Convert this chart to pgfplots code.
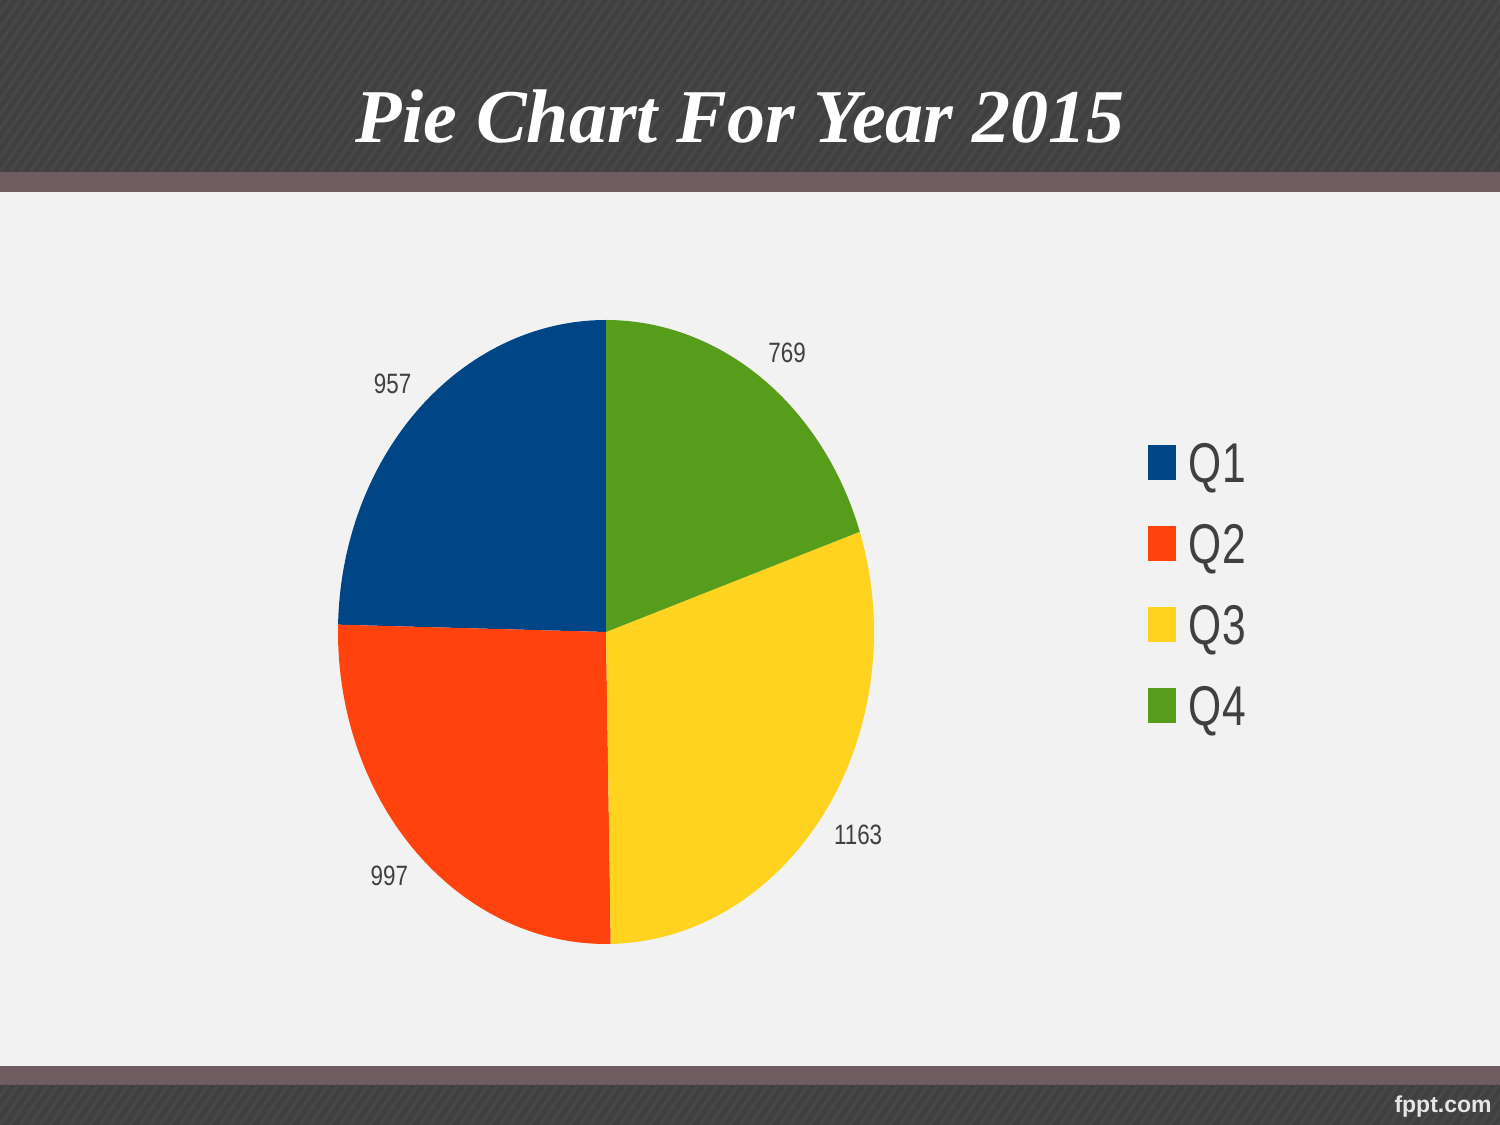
\documentclass[border=0pt]{standalone}
\usepackage{pgfplots}
\pgfplotsset{compat=1.18}
\usepackage{pgfplotstable}
\usepackage{fontspec}
\setmainfont{Liberation Sans}
\newfontfamily\titlefont{Liberation Serif}
\newfontfamily\narrowfont[FakeStretch=0.80]{Liberation Sans}
\newfontfamily\legendfont[FakeStretch=0.76]{Liberation Sans}
\definecolor{qone}{HTML}{004586}
\definecolor{qtwo}{HTML}{FF420E}
\definecolor{qthree}{HTML}{FFD320}
\definecolor{qfour}{HTML}{579D1C}
\definecolor{darkband}{HTML}{404040}
\definecolor{stripe}{HTML}{474747}
\definecolor{mauve}{HTML}{6E5C60}
\definecolor{bodybg}{HTML}{F2F2F2}
\definecolor{labeltext}{HTML}{404040}
\definecolor{footertext}{HTML}{E6E6E6}

\pgfplotstableread{
label value
Q1 957
Q2 997
Q3 1163
Q4 769
}\piedata

\begin{document}%
\begin{tikzpicture}
\pgfplotstablegetelem{0}{value}\of\piedata \let\vA\pgfplotsretval
\pgfplotstablegetelem{1}{value}\of\piedata \let\vB\pgfplotsretval
\pgfplotstablegetelem{2}{value}\of\piedata \let\vC\pgfplotsretval
\pgfplotstablegetelem{3}{value}\of\piedata \let\vD\pgfplotsretval
\pgfmathsetmacro\total{\vA+\vB+\vC+\vD}
\pgfmathsetmacro\aA{90}
\pgfmathsetmacro\aB{\aA+\vA/\total*360}
\pgfmathsetmacro\aC{\aB+\vB/\total*360}
\pgfmathsetmacro\aD{\aC+\vC/\total*360}
\pgfmathsetmacro\aE{\aD+\vD/\total*360}
\pgfmathsetmacro\mA{(\aA+\aB)/2}
\pgfmathsetmacro\mB{(\aB+\aC)/2}
\pgfmathsetmacro\mC{(\aC+\aD)/2}
\pgfmathsetmacro\mD{(\aD+\aE)/2}
\path[use as bounding box] (0,0) rectangle (750pt,562.5pt);
\begin{scope}[x=0.5pt,y=-0.5pt,shift={(0pt,562.5pt)}]
  \fill[bodybg] (0,0) rectangle (1500,1125);
  \fill[darkband] (0,0) rectangle (1500,172);
  \begin{scope}
    \clip (0,0) rectangle (1500,172);
    \foreach \i in {-300,-290,...,1520} \draw[stripe, line width=1.6pt] (\i,172) -- (\i+120,0);
  \end{scope}
  \fill[mauve] (0,172) rectangle (1500,192);
  \fill[mauve] (0,1066) rectangle (1500,1085);
  \fill[darkband] (0,1085) rectangle (1500,1125);
  \begin{scope}
    \clip (0,1085) rectangle (1500,1125);
    \foreach \i in {-100,-90,...,1520} \draw[stripe, line width=1.6pt] (\i,1125) -- (\i+28,1085);
  \end{scope}
  \node[anchor=base, text=white, inner sep=0pt, font=\titlefont\bfseries\itshape\fontsize{38}{46}\selectfont] at (740,143) {Pie Chart For Year 2015};
  \node[anchor=base east, text=footertext, inner sep=0pt, font=\bfseries\fontsize{11.5}{14}\selectfont] at (1492,1113) {fppt.com};
\end{scope}
\begin{axis}[
  at={(303pt,246.5pt)}, anchor=center,
  x=134pt, y=156pt,
  xmin=-1, xmax=1, ymin=-1, ymax=1,
  axis lines=none, ticks=none, clip=false,
  legend image code/.code={\fill[#1] (0pt,-8.75pt) rectangle (14pt,8.75pt);},
  legend cell align=left,
  legend style={at={(1.511,0.8035)}, anchor=north west, draw=none, fill=none,
    inner sep=0pt, outer sep=0pt, row sep=20.5pt,
    font=\legendfont\fontsize{28}{28}\selectfont, text=labeltext,
    nodes={inner sep=0pt, text height=20pt, text depth=0pt},
    /tikz/every odd column/.append style={column sep=6.5pt}},
]
\addplot[draw=none, fill=qone, domain=\aA:\aB, samples=120] ({cos(x)},{sin(x)}) -- (axis cs:0,0) -- cycle;
\addlegendentry{Q1}
\addplot[draw=none, fill=qtwo, domain=\aB:\aC, samples=120] ({cos(x)},{sin(x)}) -- (axis cs:0,0) -- cycle;
\addlegendentry{Q2}
\addplot[draw=none, fill=qthree, domain=\aC:\aD, samples=120] ({cos(x)},{sin(x)}) -- (axis cs:0,0) -- cycle;
\addlegendentry{Q3}
\addplot[draw=none, fill=qfour, domain=\aD:\aE, samples=120] ({cos(x)},{sin(x)}) -- (axis cs:0,0) -- cycle;
\addlegendentry{Q4}
\begin{scope}[every node/.style={text=labeltext, inner sep=0pt, font=\narrowfont\fontsize{14}{14}\selectfont}]
\node at (axis cs:{1.14*cos(\mA)},{1.11*sin(\mA)}) {\vA};
\node at (axis cs:{1.14*cos(\mB)},{1.11*sin(\mB)}) {\vB};
\node at (axis cs:{1.15*cos(\mC)},{1.13*sin(\mC)}) {\vC};
\node at (axis cs:{1.16*cos(\mD)},{1.10*sin(\mD)}) {\vD};
\end{scope}
\end{axis}
\end{tikzpicture}%
\end{document}
